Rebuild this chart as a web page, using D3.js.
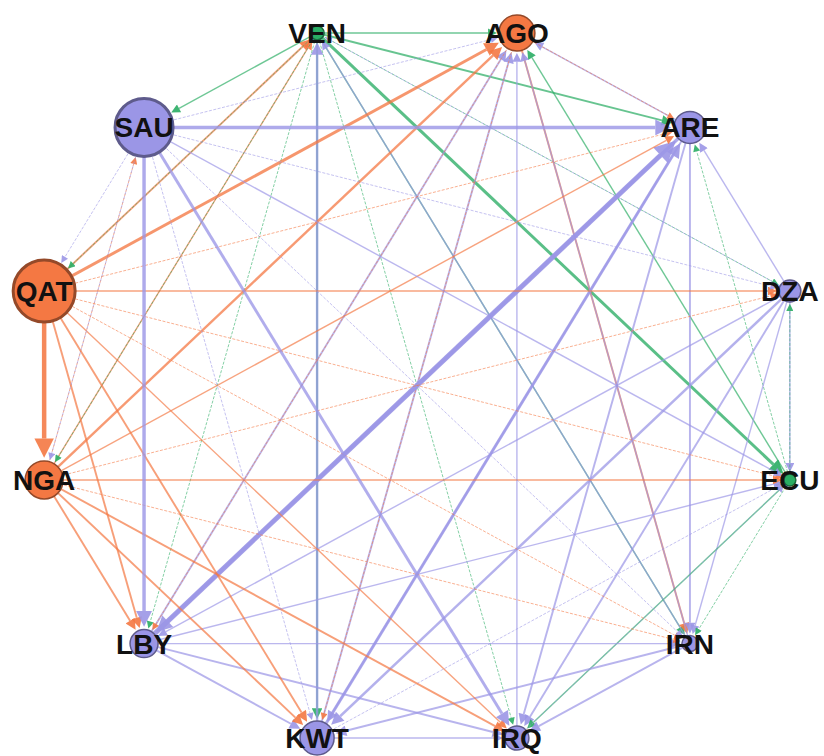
<!DOCTYPE html>
<html>
<head>
<meta charset="utf-8">
<script src="https://cdn.jsdelivr.net/npm/d3@7"></script>
<style>
    body { margin: 0; background: #fff; }
    svg { display: block; }
</style>
</head>
<body>
<svg id="net" width="824" height="756"></svg>
<script>
// nodes, clockwise from the top
const countries = ['VEN', 'AGO', 'ARE', 'DZA', 'ECU', 'IRN', 'IRQ', 'KWT', 'LBY', 'NGA', 'QAT', 'SAU'];
const groups = ['green', 'orange', 'purple', 'purple', 'green', 'purple', 'purple', 'purple', 'purple', 'orange', 'orange', 'purple'];
const nodeSize = [7, 18, 16, 11, 6, 8, 12, 17, 14, 19, 31, 29];

// directed links (source -> target, weight)
const edgeFrom = ['VEN', 'VEN', 'VEN', 'VEN', 'VEN', 'KWT', 'VEN', 'IRN', 'VEN', 'VEN', 'VEN', 'DZA', 'NGA', 'VEN', 'QAT', 'VEN',
    'ARE', 'AGO', 'ECU', 'AGO', 'IRN', 'IRQ', 'KWT', 'LBY', 'NGA', 'QAT', 'SAU', 'AGO', 'AGO',
    'DZA', 'ECU', 'ARE', 'ARE', 'KWT', 'ARE', 'LBY', 'ARE', 'NGA', 'QAT', 'SAU',
    'DZA', 'ECU', 'DZA', 'DZA', 'DZA', 'DZA', 'NGA', 'QAT', 'SAU',
    'ECU', 'ECU', 'IRQ', 'KWT', 'LBY', 'NGA', 'QAT', 'SAU',
    'IRN', 'IRN', 'LBY', 'NGA', 'QAT', 'SAU',
    'KWT', 'LBY', 'NGA', 'QAT', 'SAU',
    'LBY', 'NGA', 'QAT', 'SAU',
    'NGA', 'QAT', 'SAU', 'QAT', 'NGA', 'SAU', 'SAU'];
const edgeTo = ['AGO', 'ARE', 'ECU', 'SAU', 'KWT', 'VEN', 'IRN', 'VEN', 'IRQ', 'LBY', 'DZA', 'VEN', 'VEN', 'NGA', 'VEN', 'QAT',
    'AGO', 'ARE', 'AGO', 'IRN', 'AGO', 'AGO', 'AGO', 'AGO', 'AGO', 'AGO', 'AGO', 'LBY', 'KWT',
    'ARE', 'ARE', 'IRN', 'IRQ', 'ARE', 'KWT', 'ARE', 'LBY', 'ARE', 'ARE', 'ARE',
    'ECU', 'DZA', 'IRN', 'IRQ', 'KWT', 'LBY', 'DZA', 'DZA', 'DZA',
    'IRN', 'IRQ', 'ECU', 'ECU', 'ECU', 'ECU', 'ECU', 'ECU',
    'IRQ', 'KWT', 'IRN', 'IRN', 'IRN', 'IRN',
    'IRQ', 'IRQ', 'IRQ', 'IRQ', 'IRQ',
    'KWT', 'KWT', 'KWT', 'KWT',
    'LBY', 'LBY', 'LBY', 'NGA', 'SAU', 'NGA', 'QAT'];
const edgeWeight = [2, 3, 5, 2, 3, 4, 2, 2, 1, 1, 1, 1, 2, 1, 3, 1,
    2, 1, 2, 3, 2, 2, 3, 3, 4, 5, 1, 1, 1,
    2, 1, 3, 3, 5, 3, 9, 6, 2, 1, 6,
    2, 1, 2, 3, 4, 2, 1, 2, 1,
    1, 2, 1, 1, 2, 2, 1, 2,
    3, 3, 2, 1, 1, 1,
    2, 3, 3, 2, 5,
    3, 3, 3, 1,
    3, 3, 6, 8, 1, 1, 1];

let svg = d3.select('#net'),
    cx = 417,
    cy = 385.5,
    rx = 386,
    ry = 365;

let color = d3.scaleOrdinal()
    .domain(['orange', 'green', 'purple'])
    .range(['#f47843', '#2aad64', '#9b96e6']);

let angle = d3.scaleLinear()
    .domain([0, countries.length])
    .range([-105 * Math.PI / 180, 255 * Math.PI / 180]);

let width = d3.scaleLinear().domain([1, 9]).range([0.9, 5]);
let alpha = d3.scaleLinear().domain([1, 9]).range([0.65, 0.9]);

let nodes = countries.map(function (c, i) {
    return {
        id: c,
        group: groups[i],
        r: nodeSize[i],
        x: cx + rx * Math.cos(angle(i)),
        y: cy + ry * Math.sin(angle(i))
    };
});
let byId = {};
nodes.forEach(function (n) { byId[n.id] = n; });

let links = edgeFrom.map(function (s, i) {
    return {source: byId[s], target: byId[edgeTo[i]], w: edgeWeight[i]};
});

let defs = svg.append('defs');
let gLinks = svg.append('g');

links.forEach(function (d, i) {
    let s = d.source, t = d.target;
    let dx = t.x - s.x, dy = t.y - s.y;
    let len = Math.sqrt(dx * dx + dy * dy);
    let ux = dx / len, uy = dy / len;
    let sw = width(d.w);
    let head = 4.5 + 3.8 * sw;
    let tipX = t.x - ux * (t.r + 1), tipY = t.y - uy * (t.r + 1);
    let baseX = tipX - ux * head, baseY = tipY - uy * head;
    let c = color(s.group);

    defs.append('marker')
        .attr('id', 'arrow' + i)
        .attr('markerUnits', 'userSpaceOnUse')
        .attr('viewBox', '0 -5 10 10')
        .attr('refX', 0)
        .attr('refY', 0)
        .attr('markerWidth', head)
        .attr('markerHeight', head * 0.9)
        .attr('orient', 'auto')
        .append('path')
        .attr('d', 'M0,-5L10,0L0,5Z')
        .attr('fill', c)
        .attr('fill-opacity', 0.9);

    gLinks.append('line')
        .attr('x1', s.x + ux * s.r * 0.6)
        .attr('y1', s.y + uy * s.r * 0.6)
        .attr('x2', baseX)
        .attr('y2', baseY)
        .attr('stroke', c)
        .attr('stroke-width', sw)
        .attr('stroke-opacity', alpha(d.w))
        .attr('stroke-dasharray', d.w === 1 ? '3,1.5' : null)
        .attr('marker-end', 'url(#arrow' + i + ')');
});

let node = svg.append('g')
    .selectAll('g')
    .data(nodes)
    .enter().append('g')
    .attr('transform', function (d) { return 'translate(' + d.x + ',' + d.y + ')'; });

node.append('circle')
    .attr('r', function (d) { return d.r; })
    .attr('fill', function (d) { return color(d.group); })
    .attr('stroke', function (d) { return d3.color(color(d.group)).darker(1.4); })
    .attr('stroke-width', function (d) { return d.r > 25 ? 3 : 1.5; });

node.append('text')
    .attr('text-anchor', 'middle')
    .attr('dy', '0.36em')
    .attr('font-family', '"Liberation Sans", Arial, sans-serif')
    .attr('font-weight', 'bold')
    .attr('font-size', 28)
    .attr('fill', '#111')
    .text(function (d) { return d.id; });
</script>
</body>
</html>
